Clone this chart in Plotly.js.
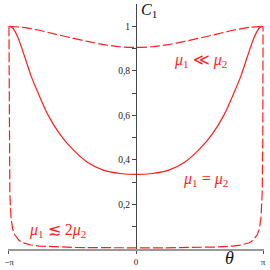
<!DOCTYPE html>
<html>
<head>
<meta charset="utf-8">
<script src="https://cdn.plot.ly/plotly-3.0.1.min.js"></script>
<style>html,body{margin:0;padding:0;background:#fff;}#chart{width:270px;height:270px;}</style>
</head>
<body>
<div id="chart"></div>
<script>
// Curve mu1 = mu2 (solid)
const thetaEqual = [-3.1416,-3.05,-2.92,-2.75,-2.59,-2.42,-2.17,-1.88,-1.55,-1.22,-0.81,-0.40,0,0.40,0.81,1.22,1.55,1.88,2.17,2.42,2.59,2.75,2.92,3.05,3.1416];
const c1Equal = [1.0,0.992,0.95,0.862,0.775,0.70,0.60,0.515,0.445,0.392,0.354,0.339,0.335,0.339,0.354,0.392,0.445,0.515,0.60,0.70,0.775,0.862,0.95,0.992,1.0];

// Curve mu1 << mu2 (dashed, top)
const thetaMuch = [-3.1416,-2.8,-2.4,-2.0,-1.6,-1.2,-0.8,-0.4,0,0.4,0.8,1.2,1.6,2.0,2.4,2.8,3.1416];
const c1Much = [1.0,0.995,0.982,0.965,0.948,0.932,0.918,0.908,0.905,0.908,0.918,0.932,0.948,0.965,0.982,0.995,1.0];

// Curve mu1 ≲ 2 mu2 (dashed, bottom)
const thetaNear = [-3.1416,-3.135,-3.12,-3.09,-3.05,-3.0,-2.9,-2.8,-2.6,-2.4,-2.0,-1.5,-1.0,-0.5,0,0.5,1.0,1.5,2.0,2.4,2.6,2.8,2.9,3.0,3.05,3.09,3.12,3.135,3.1416];
const c1Near = [1.0,0.5,0.25,0.14,0.09,0.065,0.04,0.028,0.018,0.013,0.009,0.007,0.006,0.005,0.005,0.005,0.006,0.007,0.009,0.013,0.018,0.028,0.04,0.065,0.09,0.14,0.25,0.5,1.0];

const yTickVals = [0.2,0.4,0.6,0.8,1.0];
const yTickText = ["0,2","0,4","0,6","0,8","1"];
const yMinorVals = [0.1,0.3,0.5,0.7,0.9];
const xTickVals = [-Math.PI, 0, Math.PI];
const xTickText = ["−π","0","π"];

const red = "rgb(255,30,30)";
const traces = [
  {x: thetaEqual, y: c1Equal, mode: "lines", line: {color: red, width: 1.2, shape: "spline", smoothing: 0.8}, hoverinfo: "skip"},
  {x: thetaMuch, y: c1Much, mode: "lines", line: {color: red, width: 1.2, shape: "spline", smoothing: 0.8, dash: "10px,3px"}, hoverinfo: "skip"},
  {x: thetaNear, y: c1Near, mode: "lines", line: {color: red, width: 1.2, dash: "10px,3px"}, hoverinfo: "skip"}
];

const serif = "Liberation Serif, Times New Roman, serif";
const layout = {
  width: 270, height: 270,
  margin: {l: 8, r: 6, t: 4, b: 21},
  paper_bgcolor: "#fff", plot_bgcolor: "#fff",
  showlegend: false,
  xaxis: {
    range: [-3.165, 3.165], showgrid: false, zeroline: false,
    showline: true, linecolor: "#999", linewidth: 2,
    tickvals: xTickVals, ticktext: xTickText,
    ticks: "outside", ticklen: 3, tickcolor: "#555", tickwidth: 1,
    tickfont: {family: serif, size: 9, color: "#222"}
  },
  yaxis: {
    range: [0, 1.1], showgrid: false, zeroline: false,
    anchor: "free", position: 0.5,
    showline: true, linecolor: "#444", linewidth: 1,
    tickvals: yTickVals, ticktext: yTickText,
    ticks: "outside", ticklen: 4, tickcolor: "#444", tickwidth: 1,
    minor: {tickvals: yMinorVals, ticks: "outside", ticklen: 4, tickcolor: "#444", tickwidth: 1, showgrid: false},
    tickfont: {family: serif, size: 9.5, color: "#222"}
  },
  annotations: [
    {xref: "x", yref: "paper", x: 0.08, y: 0.975, xanchor: "left", yanchor: "middle", showarrow: false,
     text: "<i>C</i><sub>1</sub>", font: {family: serif, size: 16, color: "#111"}},
    {xref: "x", yref: "paper", x: 2.3, y: -0.035, xanchor: "center", yanchor: "middle", showarrow: false,
     text: "<i>θ</i>", font: {family: serif, size: 18, color: "#111"}},
    {xref: "x", yref: "y", x: 1.6, y: 0.845, xanchor: "center", yanchor: "middle", showarrow: false,
     text: "<i>μ</i><sub>1</sub> ≪ <i>μ</i><sub>2</sub>", font: {family: serif, size: 16, color: red}},
    {xref: "x", yref: "y", x: 1.72, y: 0.31, xanchor: "center", yanchor: "middle", showarrow: false,
     text: "<i>μ</i><sub>1</sub> = <i>μ</i><sub>2</sub>", font: {family: serif, size: 16, color: red}},
    {xref: "x", yref: "y", x: -1.95, y: 0.085, xanchor: "center", yanchor: "middle", showarrow: false,
     text: "<i>μ</i><sub>1</sub> ≲ 2<i>μ</i><sub>2</sub>", font: {family: serif, size: 16, color: red}}
  ]
};
Plotly.newPlot("chart", traces, layout, {staticPlot: true, displayModeBar: false});
</script>
</body>
</html>
